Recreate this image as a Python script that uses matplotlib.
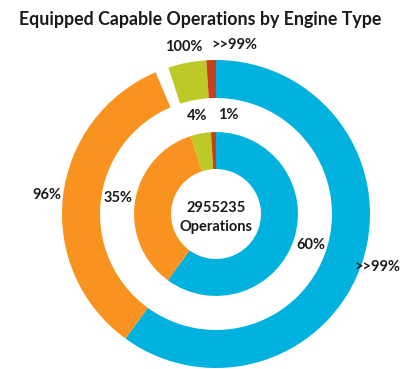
import numpy as np
import matplotlib.pyplot as plt

plt.rcParams['font.family'] = ['Lato', 'DejaVu Sans']

#%% data
engine_types = ['Jet', 'Piston', 'Turboprop', 'Other']
share = [60, 35, 4, 1]                       # inner ring, % of operations
share_labels = ['60%', '35%', '4%', '1%']
equipped = [60, 33.6, 1.4, 4, 1]             # outer ring, incl. unequipped gap
equipped_labels = ['>>99%', '96%', None, '100%', '>>99%']
total_ops = 2955235
title = 'Equipped Capable Operations by Engine Type'

colors = ['#00B2DD', '#F7931E', '#BDC927', '#C9401F']
outer_colors = ['#00B2DD', '#F7931E', 'white', '#BDC927', '#C9401F']

#%% plot
fig = plt.figure(figsize=(4, 3.69), dpi=100)
ax = fig.add_axes([0, 0, 1, 1])

ax.pie(equipped, radius=1.0, colors=outer_colors, startangle=90, counterclock=False,
       wedgeprops=dict(width=0.247, linewidth=0))
ax.pie(share, radius=0.532, colors=colors, startangle=90, counterclock=False,
       wedgeprops=dict(width=0.24, linewidth=0))


def mid_angles(vals):
    c = np.cumsum([0] + list(vals))
    return [(c[i] + c[i + 1]) / 2 / c[-1] * 360 for i in range(len(vals))]


# small slices near the top get pushed apart so the labels don't collide
inner_shift = [0, 0, 0, 9]
outer_shift = [0, 0, 0, 0, 8]

for a, lab, sh in zip(mid_angles(share), share_labels, inner_shift):
    t = np.radians(90 - (a + sh))
    ax.text(0.645 * np.cos(t), 0.645 * np.sin(t), lab, ha='center', va='center',
            fontsize=10.5, fontweight='bold', color='#1a1a1a')

for a, lab, sh in zip(mid_angles(equipped), equipped_labels, outer_shift):
    if lab is None:
        continue
    t = np.radians(90 - (a + sh))
    ax.text(1.105 * np.cos(t), 1.105 * np.sin(t), lab, ha='center', va='center',
            fontsize=10.5, fontweight='bold', color='#1a1a1a')

ax.text(0.0, -0.025, f'{total_ops}\nOperations', ha='center', va='center',
        fontsize=10.5, fontweight='bold', color='#1a1a1a', linespacing=1.45)

ax.set_xlim(-216 / 154, 184 / 154)
ax.set_ylim(-155 / 154, 214 / 154)
ax.set_aspect('equal')
ax.axis('off')

fig.text(0.5, 1 - 20 / 369, title, ha='center', va='center',
         fontsize=12.8, fontweight='bold', color='#1a1a1a')

fig.savefig('out.png', dpi=100)
